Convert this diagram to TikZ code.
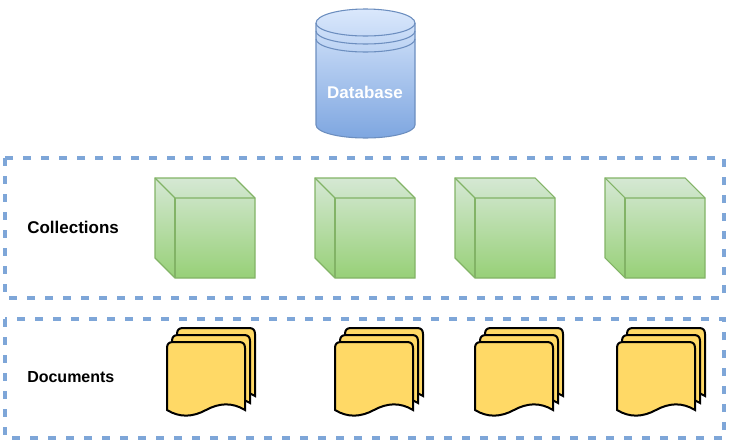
\documentclass[tikz,border=0pt]{standalone}
\usepackage{fontspec}
\setmainfont{Liberation Sans}
\usepackage{xcolor}
\usetikzlibrary{positioning}
\definecolor{groupblue}{HTML}{7EA6D8}
\definecolor{dbtop}{HTML}{DAE8FC}
\definecolor{dbbottom}{HTML}{7EA6E0}
\definecolor{dbline}{HTML}{6C8EBF}
\definecolor{cubetop}{HTML}{D5E8D4}
\definecolor{cubebottom}{HTML}{97D077}
\definecolor{cubeline}{HTML}{82B366}
\definecolor{docfill}{HTML}{FFD966}

\begin{document}
\begin{tikzpicture}[x=0.75pt, y=-0.75pt,
  font=\fontsize{12.75}{15}\selectfont\bfseries,
  groupbox/.style={draw=groupblue, line width=2.6pt, dash pattern=on 6pt off 7.5pt},
  grouplabel/.style={anchor=west, inner sep=0pt, text=black},
  dbedge/.style={draw=dbline, line width=0.8pt},
  cubeedge/.style={draw=cubeline, line width=0.8pt},
  sheet/.style={draw=black, fill=docfill, line width=1.5pt, miter limit=10},
  cubepic/.pic={
    \shade[top color=cubetop, bottom color=cubebottom]
      (0,0) -- (80,0) -- (100,20) -- (100,100) -- (20,100) -- (0,80) -- cycle;
    \draw[cubeedge] (0,0) -- (80,0) -- (100,20) -- (100,100) -- (20,100) -- (0,80) -- cycle;
    \draw[cubeedge] (0,0) -- (20,20) -- (100,20);
    \draw[cubeedge] (20,20) -- (20,100);
  },
  docsheet/.pic={
    \draw[sheet] (78,68) -- (78,6) .. controls (78,2) and (76,0) .. (72,0) -- (6,0)
      .. controls (2,0) and (0,2) .. (0,6) -- (0,68)
      .. controls (13,76) and (26,75) .. (39,68) .. controls (52,61) and (65,60) .. (78,68) -- cycle;
  },
  docpic/.pic={
    \pic at (10,-14) {docsheet};
    \pic at (5,-7) {docsheet};
    \pic at (0,0) {docsheet};
  }]
  \useasboundingbox (0,0) rectangle (735,446);
  % database
  \shade[top color=dbtop, bottom color=dbbottom]
    (316,23) arc[start angle=180, end angle=360, x radius=49.5, y radius=14]
    -- (415,125) arc[start angle=0, end angle=180, x radius=49.5, y radius=13] -- cycle;
  \draw[dbedge] (316,23) arc[start angle=180, end angle=360, x radius=49.5, y radius=14]
    -- (415,125) arc[start angle=0, end angle=180, x radius=49.5, y radius=13] -- cycle;
  \foreach \yband in {23,31,39}
    \draw[dbedge] (316,\yband) arc[start angle=180, end angle=0, x radius=49.5, y radius=13];
  \node[text=white, inner sep=0pt] (database) at (365,92) {Database};
  % groups
  \draw[groupbox] (5,158) rectangle (724,298);
  \draw[groupbox] (5,319) rectangle (724,438);
  \node[grouplabel] (collections) at (27,227) {Collections};
  \node[grouplabel, font=\fontsize{12}{15}\selectfont\bfseries] (documents) at (27,377) {Documents};
  % collections and documents
  \foreach \xcube in {155,315,455,605}
    \pic at (\xcube,178) {cubepic};
  \foreach \xdoc in {167,335,475,617}
    \pic at (\xdoc,342) {docpic};
\end{tikzpicture}
\end{document}
